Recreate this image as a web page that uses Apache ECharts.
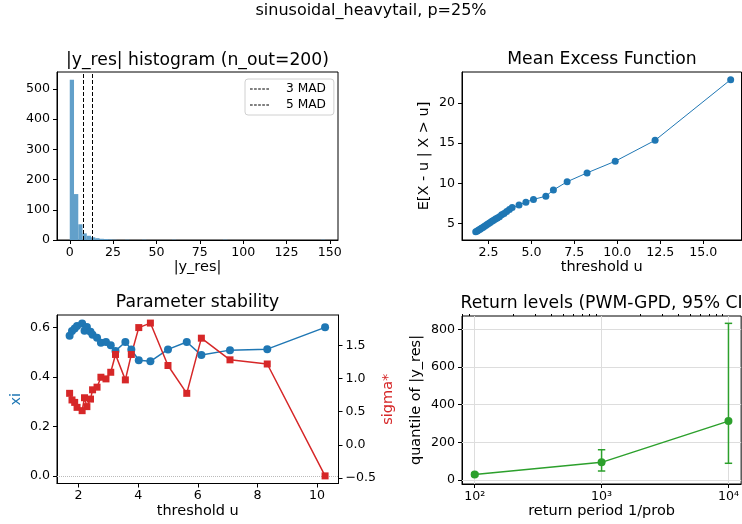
<!DOCTYPE html>
<html><head><meta charset="utf-8">
<script src="https://cdn.jsdelivr.net/npm/echarts@6/dist/echarts.min.js"></script>
<style>html,body{margin:0;padding:0;background:#fff}#c{width:742px;height:524px}</style>
</head><body><div id="c"></div>
<script>
// ---------- data ----------
const histBinStart = 0;
const histBinWidth = 2.455;
const histCounts = [530,152,52,22,14,9,6,4,3,2,1,0,0,1,0,0,0,1,0,0,0,0,0,0,1,0,0,0,0,0,0,0,0,0,0,0,1,0,0,0,0,0,0,0,0,0,0,0,0,0,0,0,0,0,0,0,0,0,0,1];
const mad3 = 7.71;
const mad5 = 12.89;
const histXTicks = [0,25,50,75,100,125,150];
const histYTicks = [0,100,200,300,400,500];

const meU   = [1.76,1.85,1.93,2.01,2.09,2.17,2.25,2.34,2.42,2.51,2.60,2.70,2.80,2.91,3.02,3.14,3.27,3.41,3.56,3.72,3.88,4.28,4.68,5.12,5.84,6.28,7.08,8.24,9.88,12.20,16.60];
const meVal = [3.98,4.08,4.19,4.30,4.41,4.52,4.63,4.76,4.88,5.01,5.13,5.27,5.40,5.55,5.68,5.84,6.10,6.25,6.50,6.75,6.98,7.30,7.66,8.00,8.40,9.17,10.20,11.30,12.75,15.35,22.90];
const meXTicks = [2.5,5,7.5,10,12.5,15];
const meYTicks = [5,10,15,20];

const psU     = [1.70,1.78,1.87,1.95,2.12,2.20,2.28,2.40,2.47,2.62,2.75,2.92,3.08,3.24,3.57,3.77,4.02,4.41,5.00,5.63,6.12,7.08,8.33,10.27];
const psXi    = [0.566,0.585,0.595,0.606,0.616,0.586,0.602,0.582,0.570,0.558,0.538,0.541,0.528,0.505,0.541,0.511,0.467,0.463,0.511,0.541,0.488,0.508,0.512,0.600];
const psSigma = [0.777,0.677,0.640,0.565,0.515,0.710,0.576,0.690,0.830,0.870,1.020,0.995,1.095,1.364,0.980,1.364,1.770,1.838,1.197,0.777,1.610,1.283,1.220,-0.470];
const psXTicks = [2,4,6,8,10];
const psXiTicks = [0,0.2,0.4,0.6];
const psSigmaTicks = [-0.5,0,0.5,1,1.5];

const rlPeriod = [100,1000,10000];
const rlLevel  = [30,94,313];
const rlLower  = [22,48,89];
const rlUpper  = [37,161,832];
const rlXTicks = [100,1000,10000];
const rlXMinor = [80,90,200,300,400,500,600,700,800,900,2000,3000,4000,5000,6000,7000,8000,9000];
const rlYTicks = [0,200,400,600,800];

// ---------- styling helpers ----------
const F = 'DejaVu Sans';
const BLUE = '#1f77b4', RED = '#d62728', GREEN = '#2ca02c', HIST = '#62a0ca';
const TICKFS = 12.6;
const minus = s => s.replace('-', '\u2212');
function tick(vals, len) { return {show:true, customValues:vals, length:len||4, inside:false, lineStyle:{color:'#000', width:1}}; }
function lbl(vals, fmt, margin) { return {show:true, customValues:vals, color:'#000', fontFamily:F, fontSize:TICKFS, margin:margin||6, formatter:fmt}; }
const aLine = {show:true, onZero:false, lineStyle:{color:'#000', width:1}};
const nameStyle = (c) => ({fontFamily:F, fontSize:14.5, color:c||'#000'});
const tStyle = (s) => ({fontFamily:F, fontSize:s||17.2, fontWeight:'normal', color:'#000'});
const dashIcon = 'path://M0,0h2.7v1.1h-2.7z M4.1,0h2.7v1.1h-2.7z M8.2,0h2.7v1.1h-2.7z M12.3,0h2.7v1.1h-2.7z M16.4,0h2.7v1.1h-2.7z';

const histData = histCounts.map((c,i)=>[histBinStart+i*histBinWidth, histBinStart+(i+1)*histBinWidth, c]);

const chart = echarts.init(document.getElementById('c'), null, {renderer:'canvas'});
chart.setOption({
  animation:false,
  backgroundColor:'#fff',
  title:[
    {text:'sinusoidal_heavytail, p=25%', left:371, top:3, textAlign:'center', padding:0, textStyle:tStyle(16)},
    {text:'|y_res| histogram (n_out=200)', left:197.5, top:52, textAlign:'center', padding:0, textStyle:tStyle()},
    {text:'Mean Excess Function', left:602, top:51, textAlign:'center', padding:0, textStyle:tStyle()},
    {text:'Parameter stability', left:197.5, top:294, textAlign:'center', padding:0, textStyle:tStyle()},
    {text:'Return levels (PWM-GPD, 95% CI)', left:605, top:295, textAlign:'center', padding:0, textStyle:tStyle()}
  ],
  legend:{data:[{name:'3 MAD', icon:dashIcon},{name:'5 MAD', icon:dashIcon}], orient:'vertical', left:245, top:79, itemWidth:19, itemHeight:14, itemGap:4,
    padding:[4,8,4,5], borderColor:'#d0d0d0', borderWidth:1, borderRadius:3, backgroundColor:'rgba(255,255,255,0.8)',
    itemStyle:{color:'#000'},
    textStyle:{fontFamily:F, fontSize:12.2, color:'#000', padding:[0,0,0,12]}},
  grid:[
    {left:57, top:72, width:281, height:168, show:true, borderColor:'#000', borderWidth:1, containLabel:false},
    {left:462, top:72, width:279.5, height:168, show:true, borderColor:'#000', borderWidth:1, containLabel:false},
    {left:57, top:315, width:281.5, height:168.5, show:true, borderColor:'#000', borderWidth:1, containLabel:false},
    {left:462, top:316, width:283, height:168, show:true, borderColor:'#000', borderWidth:1, containLabel:false}
  ],
  xAxis:[
    {gridIndex:0, type:'value', min:-7.36, max:154.7, axisLine:aLine, axisTick:tick(histXTicks), axisLabel:lbl(histXTicks, v=>String(v)), splitLine:{show:false},
     name:'|y_res|', nameLocation:'middle', nameGap:19, nameTextStyle:nameStyle()},
    {gridIndex:1, type:'value', min:0.96, max:17.23, axisLine:aLine, axisTick:tick(meXTicks), axisLabel:lbl(meXTicks, v=>v.toFixed(1)), splitLine:{show:false},
     name:'threshold u', nameLocation:'middle', nameGap:19, nameTextStyle:nameStyle()},
    {gridIndex:2, type:'value', min:1.277, max:10.72, axisLine:aLine, axisTick:tick(psXTicks), axisLabel:lbl(psXTicks, v=>String(v)), splitLine:{show:false},
     name:'threshold u', nameLocation:'middle', nameGap:19, nameTextStyle:nameStyle()},
    {gridIndex:3, type:'log', logBase:10, min:79.43, max:12589, axisLine:aLine, axisTick:tick(rlXTicks), axisLabel:lbl(rlXTicks, v=>'10'+({100:'\u00b2',1000:'\u00b3',10000:'\u2074'}[Math.round(v)]||'')), splitLine:{show:false},
     name:'return period 1/prob', nameLocation:'middle', nameGap:20, nameTextStyle:nameStyle()},
    {gridIndex:3, type:'log', logBase:10, min:79.43, max:12589, axisLine:{show:false, onZero:false}, axisTick:tick(rlXMinor, 2), axisLabel:{show:false}, splitLine:{show:false}}
  ],
  yAxis:[
    {gridIndex:0, type:'value', min:0, max:556, axisLine:aLine, axisTick:tick(histYTicks), axisLabel:lbl(histYTicks, v=>String(v), 7), splitLine:{show:false}},
    {gridIndex:1, type:'value', min:2.95, max:23.85, axisLine:aLine, axisTick:tick(meYTicks), axisLabel:lbl(meYTicks, v=>String(v), 7), splitLine:{show:false},
     name:'E[X - u | X > u]', nameLocation:'middle', nameGap:30, nameRotate:90, nameTextStyle:nameStyle()},
    {gridIndex:2, type:'value', min:-0.031, max:0.65, axisLine:aLine, axisTick:tick(psXiTicks), axisLabel:lbl(psXiTicks, v=>v.toFixed(1), 7), splitLine:{show:false},
     name:'xi', nameLocation:'middle', nameGap:33, nameRotate:90, nameTextStyle:nameStyle(BLUE)},
    {gridIndex:2, type:'value', position:'right', min:-0.585, max:1.96, axisLine:aLine, axisTick:tick(psSigmaTicks), axisLabel:lbl(psSigmaTicks, v=>minus(v.toFixed(1)), 7), splitLine:{show:false},
     name:'sigma*', nameLocation:'middle', nameGap:42, nameRotate:90, nameTextStyle:nameStyle(RED)},
    {gridIndex:3, type:'value', min:-21, max:871, axisLine:aLine, axisTick:tick(rlYTicks), axisLabel:lbl(rlYTicks, v=>String(v), 7), splitLine:{show:false},
     name:'quantile of |y_res|', nameLocation:'middle', nameGap:38, nameRotate:90, nameTextStyle:nameStyle()}
  ],
  series:[
    {type:'custom', name:'hist', xAxisIndex:0, yAxisIndex:0, encode:{x:[0,1], y:2}, data:histData, z:2,
     renderItem:(params, api)=>{
       const p0 = api.coord([api.value(0), api.value(2)]);
       const p1 = api.coord([api.value(1), 0]);
       return {type:'rect', shape:{x:p0[0], y:p0[1], width:p1[0]-p0[0], height:p1[1]-p0[1]}, style:{fill:HIST}};
     }},
    {type:'line', name:'3 MAD', xAxisIndex:0, yAxisIndex:0, data:[], symbol:'none', color:'#000', lineStyle:{color:'#000', type:[4,2], width:1},
     markLine:{silent:true, symbol:'none', label:{show:false}, lineStyle:{color:'#000', type:[4,2], width:1}, data:[{xAxis:mad3}]}, z:3},
    {type:'line', name:'5 MAD', xAxisIndex:0, yAxisIndex:0, data:[], symbol:'none', color:'#000', lineStyle:{color:'#000', type:[4,2], width:1},
     markLine:{silent:true, symbol:'none', label:{show:false}, lineStyle:{color:'#000', type:[4,2], width:1}, data:[{xAxis:mad5}]}, z:3},
    {type:'line', name:'ME', xAxisIndex:1, yAxisIndex:1, data:meU.map((u,i)=>[u, meVal[i]]), symbol:'circle', symbolSize:7, color:BLUE,
     lineStyle:{color:BLUE, width:1}, itemStyle:{color:BLUE}},
    {type:'line', name:'xi', xAxisIndex:2, yAxisIndex:2, data:psU.map((u,i)=>[u, psXi[i]]), symbol:'circle', symbolSize:8, color:BLUE,
     lineStyle:{color:BLUE, width:1.5}, itemStyle:{color:BLUE},
     markLine:{silent:true, z:1, symbol:'none', label:{show:false}, lineStyle:{color:'#bbbbbb', type:'dotted', width:1}, data:[{yAxis:0}]}},
    {type:'line', name:'sigma', xAxisIndex:2, yAxisIndex:3, data:psU.map((u,i)=>[u, psSigma[i]]), symbol:'rect', symbolSize:7, color:RED,
     lineStyle:{color:RED, width:1.5}, itemStyle:{color:RED}},
    {type:'line', name:'grid', xAxisIndex:3, yAxisIndex:4, data:[], symbol:'none', z:2,
     markLine:{silent:true, z:2, symbol:'none', label:{show:false}, lineStyle:{color:'#dddddd', type:'solid', width:1},
       data: rlYTicks.map(v=>({yAxis:v})).concat(rlXTicks.map(v=>({xAxis:v})))}},
    {type:'custom', name:'err', xAxisIndex:3, yAxisIndex:4, encode:{x:0, y:[1,2]}, data:rlPeriod.map((p,i)=>[p, rlLower[i], rlUpper[i]]), z:6,
     renderItem:(params, api)=>{
       const lo = api.coord([api.value(0), api.value(1)]);
       const hi = api.coord([api.value(0), api.value(2)]);
       const w = 3.7;
       const st = {stroke:GREEN, lineWidth:1.5};
       return {type:'group', children:[
         {type:'line', shape:{x1:lo[0], y1:lo[1], x2:hi[0], y2:hi[1]}, style:st},
         {type:'line', shape:{x1:lo[0]-w, y1:lo[1], x2:lo[0]+w, y2:lo[1]}, style:st},
         {type:'line', shape:{x1:hi[0]-w, y1:hi[1], x2:hi[0]+w, y2:hi[1]}, style:st}
       ]};
     }},
    {type:'line', name:'RL', xAxisIndex:3, yAxisIndex:4, data:rlPeriod.map((p,i)=>[p, rlLevel[i]]), symbol:'circle', symbolSize:8, color:GREEN,
     lineStyle:{color:GREEN, width:1.5}, itemStyle:{color:GREEN}, z:7}
  ]
});
</script></body></html>
